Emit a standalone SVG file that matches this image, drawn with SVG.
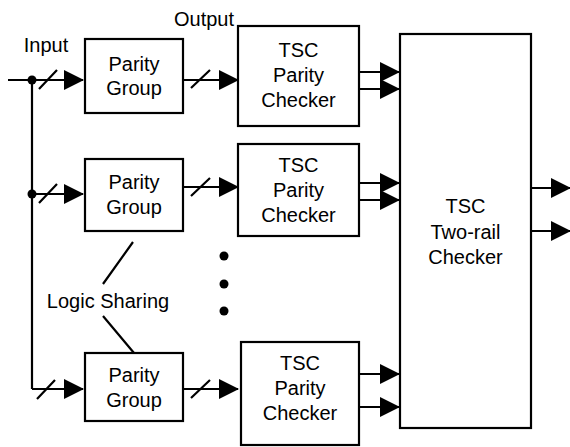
<svg xmlns="http://www.w3.org/2000/svg" width="570" height="447" viewBox="0 0 570 447">
<defs>
<marker id="ah" markerUnits="userSpaceOnUse" markerWidth="20" markerHeight="20" refX="19" refY="10" orient="auto" viewBox="0 0 20 20">
<path d="M0,0 L20,10 L0,20 z" fill="#000"/>
</marker>
</defs>
<style>
.box{fill:#fff;stroke:#000;stroke-width:2.2}
.ln{fill:none;stroke:#000;stroke-width:2.2}
.ar{fill:none;stroke:#000;stroke-width:2.2;marker-end:url(#ah)}
text{font-family:"Liberation Sans",Arial,sans-serif;font-size:20px;fill:#000}
.c{text-anchor:middle}
</style>
<rect width="570" height="447" fill="#fff"/>

<g id="connectors">
<!-- input bus -->
<path class="ln" d="M8,80 L32,80 M32,80 L32,389"/>
<path class="ar" d="M32,80 L83,80"/>
<path class="ar" d="M32,194 L83,194"/>
<path class="ar" d="M32,389 L83,389"/>
<circle cx="32" cy="80" r="4.5" fill="#000"/>
<circle cx="32" cy="194" r="4.5" fill="#000"/>
<!-- input slashes -->
<path class="ln" d="M39,89 L57,70 M39,203 L57,184 M37,399 L55,380"/>
<!-- parity group outputs -->
<path class="ar" d="M183,80 L238,80"/>
<path class="ar" d="M183,187 L238,187"/>
<path class="ar" d="M183,389 L238,389"/>
<path class="ln" d="M191,88 L210,70 M191,196 L210,178 M191,398 L210,380"/>
<!-- checker outputs -->
<path class="ar" d="M359,72 L399,72"/>
<path class="ar" d="M359,89 L399,89"/>
<path class="ar" d="M359,183 L399,183"/>
<path class="ar" d="M359,200 L399,200"/>
<path class="ar" d="M359,374 L399,374"/>
<path class="ar" d="M359,407 L399,407"/>
<!-- two-rail outputs -->
<path class="ar" d="M531,188 L570,188"/>
<path class="ar" d="M531,231 L570,231"/>
<!-- logic sharing pointers -->
<path class="ln" d="M133,242 L103,284 M103,316 L134,353"/>
</g>

<g id="pg1"><rect class="box" x="85" y="39" width="98" height="74"/><text class="c" x="134" y="71">Parity</text><text class="c" x="134" y="95">Group</text></g>
<g id="pg2"><rect class="box" x="85" y="159" width="98" height="72"/><text class="c" x="134" y="189">Parity</text><text class="c" x="134" y="214">Group</text></g>
<g id="pg3"><rect class="box" x="85" y="353" width="98" height="68"/><text class="c" x="134" y="382">Parity</text><text class="c" x="134" y="407">Group</text></g>

<g id="chk1"><rect class="box" x="238" y="26" width="121" height="100"/><text class="c" x="298.5" y="57">TSC</text><text class="c" x="298.5" y="82">Parity</text><text class="c" x="298.5" y="107">Checker</text></g>
<g id="chk2"><rect class="box" x="238" y="144" width="121" height="92"/><text class="c" x="298.5" y="172">TSC</text><text class="c" x="298.5" y="197">Parity</text><text class="c" x="298.5" y="222">Checker</text></g>
<g id="chk3"><rect class="box" x="241" y="342" width="118" height="103"/><text class="c" x="300" y="370">TSC</text><text class="c" x="300" y="395">Parity</text><text class="c" x="300" y="420">Checker</text></g>

<g id="tworail"><rect class="box" x="400" y="34" width="131" height="394"/><text class="c" x="465.5" y="213">TSC</text><text class="c" x="465.5" y="239">Two-rail</text><text class="c" x="465.5" y="264">Checker</text></g>

<g id="dots"><circle cx="224" cy="256" r="4.5" fill="#000"/><circle cx="224" cy="284" r="4.5" fill="#000"/><circle cx="224" cy="311" r="4.5" fill="#000"/></g>

<g id="labels">
<text class="c" x="46" y="52">Input</text>
<text class="c" x="204" y="26">Output</text>
<text class="c" x="108" y="308">Logic Sharing</text>
</g>
</svg>
